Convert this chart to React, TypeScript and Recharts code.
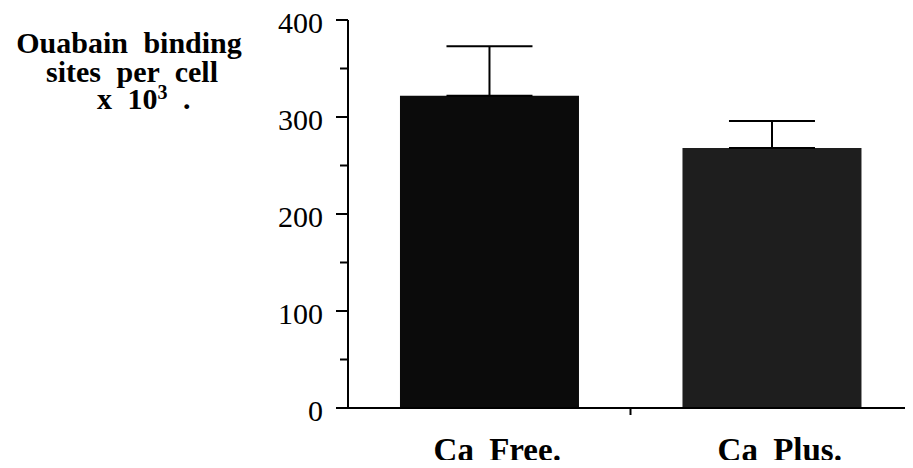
import { BarChart, Bar, XAxis, YAxis, ErrorBar, Cell } from "recharts"

// values
const categories = ["Ca Free.", "Ca Plus."]
const bindingSites = [322, 268]
const semUpper = [51, 28]
const yTicks = [0, 50, 100, 150, 200, 250, 300, 350, 400]

const data = categories.map((name, i) => ({
  name,
  value: bindingSites[i],
  err: [0, semUpper[i]],
}))

const BAR_COLORS = ["#0b0b0b", "#1e1e1e"]
const FONT = "Liberation Serif"

function YTick(props: any) {
  const { x, y, payload } = props
  const major = payload.value % 100 === 0
  return (
    <g>
      <line x1={x - (major ? 12 : 8)} x2={x} y1={y} y2={y} stroke="#000" strokeWidth={2} />
      {major && (
        <text className="serif" x={x - 25} y={y + 13} textAnchor="end" fill="#000" fontFamily={FONT} fontSize={30}>
          {payload.value}
        </text>
      )}
    </g>
  )
}

function XTick(props: any) {
  const { x, y, payload, index, width, visibleTicksCount } = props
  const band = width / visibleTicksCount
  return (
    <g>
      {index < visibleTicksCount - 1 && (
        <line x1={x + band / 2} x2={x + band / 2} y1={y} y2={y + 7} stroke="#000" strokeWidth={2} />
      )}
      <text
        className="serif"
        x={x + 8}
        y={y + 53}
        textAnchor="middle"
        fill="#000"
        fontFamily={FONT}
        fontSize={33}
        fontWeight="bold"
        wordSpacing={7}
      >
        {payload.value}
      </text>
    </g>
  )
}

function YLabel() {
  return (
    <g fill="#000" fontFamily={FONT} fontWeight="bold" fontSize={30} wordSpacing={8}>
      <text className="serif" x={129} y={53} textAnchor="middle">Ouabain binding</text>
      <text className="serif" x={132} y={82} textAnchor="middle">sites per cell</text>
      <text className="serif" x={97} y={109}>
        x 10
        <tspan dy={-10} fontSize={20}>3</tspan>
        <tspan dy={10}> .</tspan>
      </text>
    </g>
  )
}

export default function App() {
  return (
    <div style={{ position: "relative", width: 913, height: 468, margin: -8, background: "#fff", fontFamily: FONT }}>
      <style>{`text.serif, .recharts-wrapper text { font-family: 'Liberation Serif', 'Times New Roman', serif !important; }`}</style>
      <BarChart
        width={913}
        height={468}
        data={data}
        margin={{ top: 20, right: 0, bottom: 0, left: 0 }}
        barCategoryGap="18.4%"
      >
        <XAxis
          dataKey="name"
          height={60}
          tickLine={false}
          tickSize={0}
          tickMargin={0}
          axisLine={{ stroke: "#000", strokeWidth: 2 }}
          tick={(p: any) => <XTick {...p} />}
        />
        <YAxis
          width={348}
          domain={[0, 400]}
          ticks={yTicks}
          interval={0}
          tickLine={false}
          tickSize={0}
          tickMargin={0}
          axisLine={{ stroke: "#000", strokeWidth: 2 }}
          tick={(p: any) => <YTick {...p} />}
          label={{ content: () => <YLabel /> }}
        />
        <Bar dataKey="value" isAnimationActive={false}>
          {data.map((d, i) => (
            <Cell key={d.name} fill={BAR_COLORS[i]} />
          ))}
          <ErrorBar dataKey="err" width={43} stroke="#000" strokeWidth={2} isAnimationActive={false} />
        </Bar>
      </BarChart>
    </div>
  )
}
